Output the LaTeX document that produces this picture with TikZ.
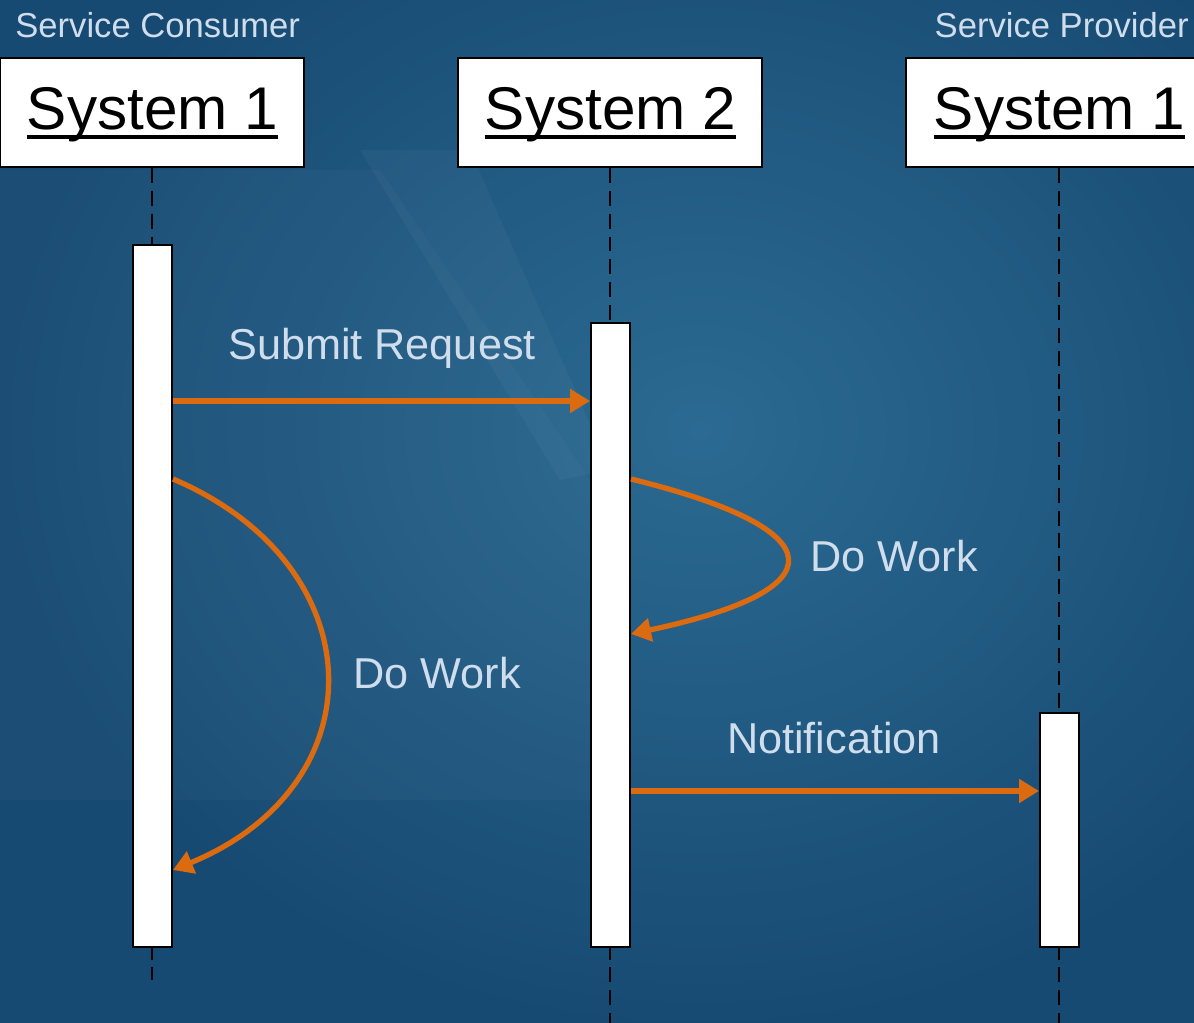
\documentclass[tikz,border=0pt]{standalone}
\usepackage{fontspec}
\setmainfont{Liberation Sans}
\usetikzlibrary{arrows.meta,calc}
\definecolor{bgdark}{HTML}{174A72}
\definecolor{bglight}{HTML}{2B6A92}
\definecolor{msgorange}{HTML}{DC6A0E}
\definecolor{labelcol}{HTML}{CFDDEC}
\begin{document}
\begin{tikzpicture}[x=0.02cm,y=-0.02cm,
  sysbox/.style={draw=black,line width=1.2pt,fill=white,minimum width=6.08cm,minimum height=2.18cm,inner sep=0pt},
  systext/.style={anchor=base,inner sep=0pt,font=\fontsize{34.3}{40}\selectfont,text=black},
  uline/.style={line width=2.2pt,black},
  rolelabel/.style={inner sep=0pt,font=\fontsize{19.7}{24}\selectfont,text=labelcol},
  msglabel/.style={inner sep=0pt,font=\fontsize{24.6}{30}\selectfont,text=labelcol},
  lifeline/.style={black,line width=1.1pt,dash pattern=on 8.5pt off 4.5pt},
  actbar/.style={draw=black,line width=1.1pt,fill=white,minimum width=0.78cm,inner sep=0pt},
  msg/.style={draw=msgorange,line width=3pt,-{Triangle[length=0.4cm,width=0.46cm]}}]
\useasboundingbox (0,0) rectangle (1194,1023);
\clip (0,0) rectangle (1194,1023);
% background
\fill[bgdark] (0,0) rectangle (1194,1023);
\shade[inner color=bglight,outer color=bgdark] (700,430) ellipse [x radius=700, y radius=600];
\fill[white,opacity=0.035] (360,150) -- (470,150) -- (610,470) -- (560,480) -- cycle;
\fill[white,opacity=0.025] (0,170) -- (380,170) -- (590,480) -- (590,800) -- (0,800) -- cycle;
% role labels
\node[rolelabel,anchor=base west] (consumer) at (15,38) {Service Consumer};
\node[rolelabel,anchor=base east] (provider) at (1189,38) {Service Provider};
% lifeline ends
\coordinate (end1) at (152,980);
\coordinate (end2) at (610,1023);
\coordinate (end3) at (1059,1023);
% system boxes
\node[sysbox] (s1) at (152,112.5) {};
\node[sysbox] (s2) at (610,112.5) {};
\node[sysbox] (s3) at (1058,112.5) {};
\draw[lifeline] (s1.south) -- (end1);
\draw[lifeline] (s2.south) -- (end2);
\draw[lifeline] (s3.south -| end3) -- (end3);
\node[systext] (s1t) at (152.5,130) {System 1};
\node[systext] (s2t) at (610.5,130) {System 2};
\node[systext] (s3t) at (1059.5,130) {System 1};
\draw[uline] ($(s1t.base west)+(0,7)$) -- ($(s1t.base east)+(0,7)$);
\draw[uline] ($(s2t.base west)+(0,7)$) -- ($(s2t.base east)+(0,7)$);
\draw[uline] ($(s3t.base west)+(0,7)$) -- ($(s3t.base east)+(0,7)$);
% activation bars
\node[actbar,minimum height=14.04cm] (b1) at (152.5,596) {};
\node[actbar,minimum height=12.48cm] (b2) at (610.5,635) {};
\node[actbar,minimum height=4.68cm] (b3) at (1059.5,830) {};
% message rows
\coordinate (ysub) at (0,401);
\coordinate (ywork2a) at (0,479);
\coordinate (ywork2b) at (0,634);
\coordinate (ywork1a) at (0,479);
\coordinate (ywork1b) at (0,870);
\coordinate (ynote) at (0,791);
% messages
\draw[msg] (b1.east |- ysub) -- (b2.west |- ysub);
\node[msglabel] (lsub) at (382,348) {Submit Request};
\draw[msg] (b2.east |- ywork2a) .. controls (838,530) and (838,590) .. (b2.east |- ywork2b);
\node[msglabel,anchor=west] (lwork2) at (810,556) {Do Work};
\draw[msg] (b1.east |- ywork1a) .. controls (375,565) and (380,785) .. (b1.east |- ywork1b);
\node[msglabel,anchor=west] (lwork1) at (353,673) {Do Work};
\draw[msg] (b2.east |- ynote) -- (b3.west |- ynote);
\node[msglabel] (lnote) at (834,738) {Notification};
\end{tikzpicture}
\end{document}
